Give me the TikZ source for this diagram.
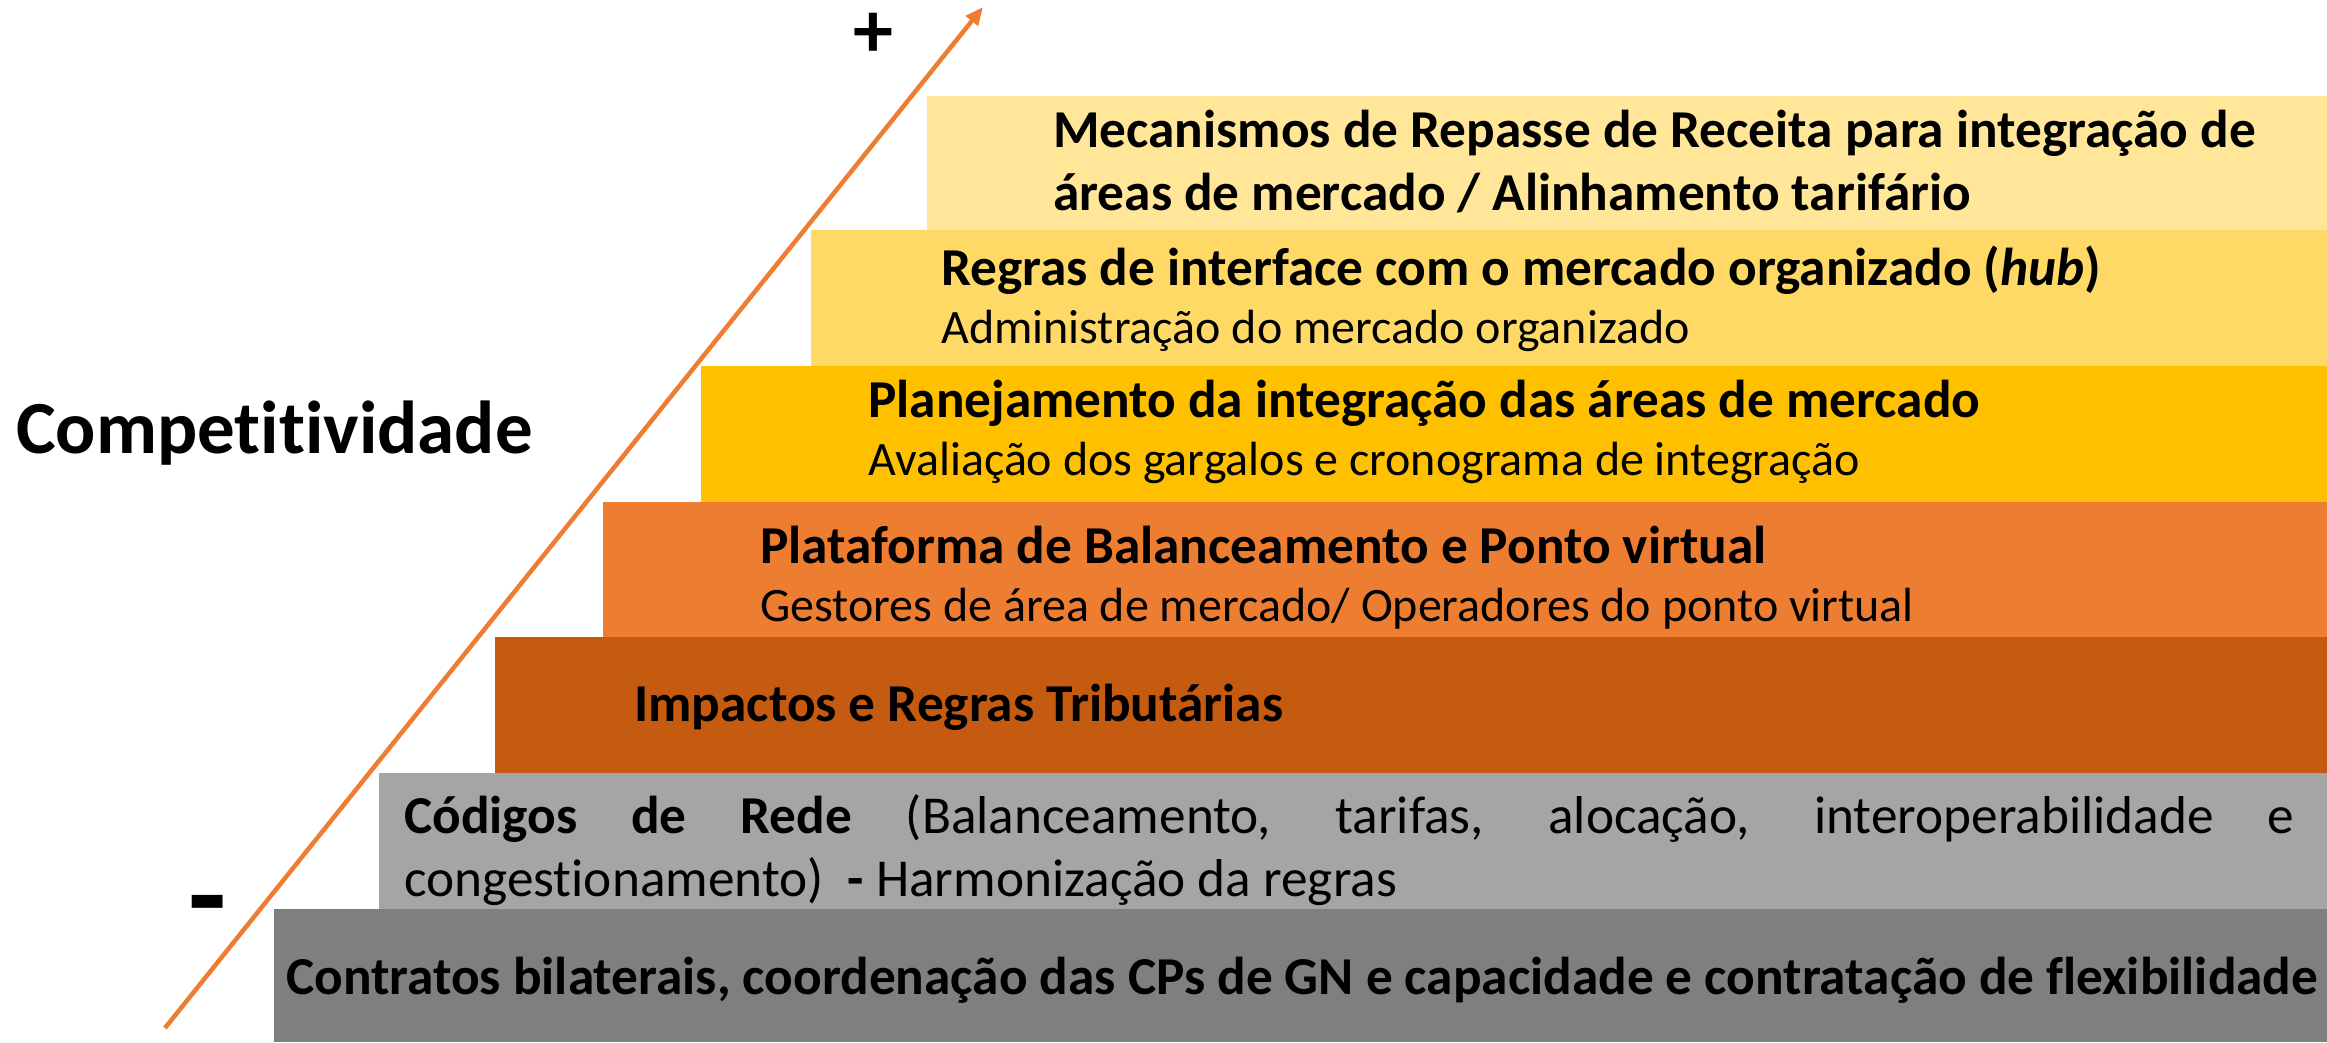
\documentclass[tikz,border=0pt]{standalone}
\usepackage{fontspec}
\setmainfont[Ligatures={NoCommon}]{Carlito}
\usetikzlibrary{arrows.meta}
\definecolor{cA}{HTML}{FFE699}
\definecolor{cB}{HTML}{FFD966}
\definecolor{cC}{HTML}{FFC000}
\definecolor{cD}{HTML}{ED7D31}
\definecolor{cE}{HTML}{C55A11}
\definecolor{cF}{HTML}{A5A5A5}
\definecolor{cG}{HTML}{7F7F7F}
\definecolor{arr}{HTML}{ED7D31}
\tikzset{
  boldl/.style={anchor=base west, inner sep=0pt, font=\fontsize{53.3}{60}\selectfont\bfseries},
  regl/.style={anchor=base west, inner sep=0pt, font=\fontsize{48}{54}\selectfont},
  bigregl/.style={anchor=base west, inner sep=0pt, font=\fontsize{53.3}{60}\selectfont},
  stepfill/.style={fill=#1, draw=none},
}
\begin{document}
\begin{tikzpicture}[x=1pt,y=-1pt]
\useasboundingbox (0,0) rectangle (2327,1042);
% steps
\path[stepfill=cA] (927,96) rectangle (2327,230);
\path[stepfill=cB] (811,230) rectangle (2327,366);
\path[stepfill=cC] (701,366) rectangle (2327,502);
\path[stepfill=cD] (603,502) rectangle (2327,637);
\path[stepfill=cE] (495,637) rectangle (2327,773);
\path[stepfill=cF] (379,773) rectangle (2327,909);
\path[stepfill=cG] (274,909) rectangle (2327,1042);
% texts
\node[boldl] (a1) at (1053,147) {Mecanismos de Repasse de Receita para integração de};
\node[boldl] (a2) at (1053,210) {áreas de mercado / Alinhamento tarifário};
\node[boldl] (b1) at (941,285) {Regras de interface com o mercado organizado (\textit{hub})};
\node[regl] (b2) at (941,343) {Administração do mercado organizado};
\node[boldl] (c1) at (868,417) {Planejamento da integração das áreas de mercado};
\node[regl] (c2) at (868,475) {Avaliação dos gargalos e cronograma de integração};
\node[boldl] (d1) at (760,563) {Plataforma de Balanceamento e Ponto virtual};
\node[regl] (d2) at (760,621) {Gestores de área de mercado/ Operadores do ponto virtual};
\node[boldl] (e1) at (634,721) {Impactos e Regras Tributárias};
\node[bigregl] (f1) at (404,833) {\makebox[1890pt][s]{\textbf{Códigos de Rede} (Balanceamento, tarifas, alocação, interoperabilidade e}};
\node[bigregl] (f2) at (404,896) {congestionamento)\ \ \textbf{-} Harmonização da regras};
\node[boldl] (g1) at (286,994) {Contratos bilaterais, coordenação das CPs de GN e capacidade e contratação de flexibilidade};
% axis
\node[anchor=base west, inner sep=0pt, font=\fontsize{75}{90}\selectfont\bfseries] (comp) at (16,453) {Competitividade};
\node[inner sep=0pt, font=\fontsize{80}{90}\selectfont\bfseries] (plus) at (873,35) {+};
\node[anchor=base, inner sep=0pt, font=\fontsize{125}{140}\selectfont\bfseries] (minus) at (208,937) {-};
\coordinate (tail) at (165,1028);
\coordinate (head) at (983,7);
\draw[arr, line width=4.5pt, -{Triangle[length=18pt,width=15pt]}] (tail) -- (head);
\end{tikzpicture}
\end{document}
